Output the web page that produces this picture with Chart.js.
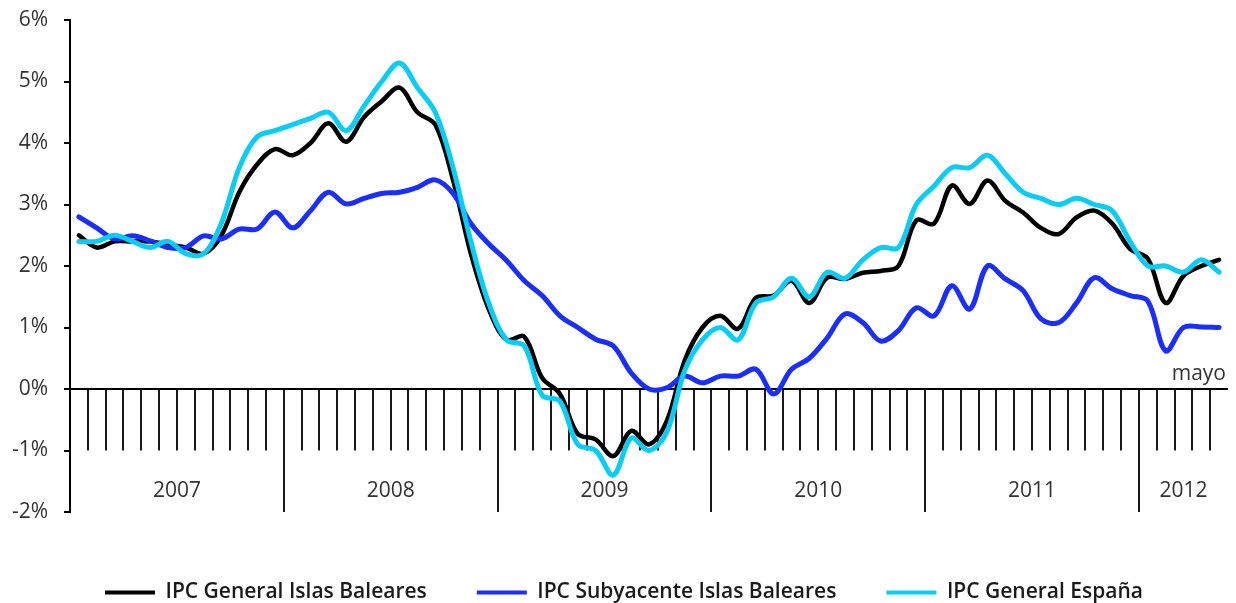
<!DOCTYPE html>
<html>
<head>
<meta charset="utf-8">
<script src="https://cdn.jsdelivr.net/npm/chart.js@4/dist/chart.umd.min.js"></script>
<style>
  html, body { margin: 0; padding: 0; background: #fff; }
  #wrap { width: 1236px; height: 603px; position: relative; }
</style>
</head>
<body>
<div id="wrap"><canvas id="c"></canvas></div>
<script>
// ---- data (monthly, Jan 2007 – May 2012) ----
const years = ['2007', '2008', '2009', '2010', '2011', '2012'];
const months = ['ene','feb','mar','abr','may','jun','jul','ago','sep','oct','nov','dic'];
const categories = [];
for (let y = 0; y < years.length; y++) {
  for (let m = 0; m < 12; m++) {
    if (y === 5 && m > 4) break;
    categories.push(months[m] + ' ' + years[y]);
  }
}
const yTickValues = [-2, -1, 0, 1, 2, 3, 4, 5, 6];
const lastLabel = 'mayo';

const ipcGeneralBaleares = [
  2.5, 2.3, 2.4, 2.4, 2.4, 2.35, 2.3, 2.2, 2.5, 3.2, 3.65, 3.9,
  3.8, 4.0, 4.32, 4.02, 4.42, 4.68, 4.9, 4.5, 4.3, 3.4, 2.2, 1.3,
  0.8, 0.85, 0.18, -0.08, -0.73, -0.82, -1.09, -0.68, -0.9, -0.52, 0.46, 1.0,
  1.19, 0.98, 1.48, 1.52, 1.76, 1.4, 1.81, 1.79, 1.89, 1.92, 2.0, 2.74,
  2.69, 3.31, 3.01, 3.39, 3.06, 2.87, 2.62, 2.52, 2.79, 2.9, 2.69, 2.28,
  2.12, 1.4, 1.84, 2.0, 2.1
];
const ipcSubyacenteBaleares = [
  2.8, 2.62, 2.44, 2.49, 2.41, 2.3, 2.3, 2.49, 2.44, 2.6, 2.6, 2.88,
  2.62, 2.9, 3.2, 3.01, 3.1, 3.18, 3.2, 3.28, 3.4, 3.18, 2.69, 2.36,
  2.09, 1.76, 1.52, 1.19, 1.0, 0.81, 0.7, 0.26, 0.0, 0.02, 0.21, 0.1,
  0.21, 0.21, 0.32, -0.08, 0.32, 0.5, 0.83, 1.22, 1.08, 0.78, 0.95, 1.32,
  1.19, 1.68, 1.3, 2.0, 1.79, 1.6, 1.14, 1.08, 1.4, 1.81, 1.63, 1.52,
  1.43, 0.62, 1.0, 1.01, 1.0
];
const ipcGeneralEspana = [
  2.4, 2.4, 2.5, 2.4, 2.3, 2.4, 2.2, 2.2, 2.7, 3.6, 4.1, 4.2,
  4.3, 4.4, 4.5, 4.2, 4.6, 5.0, 5.3, 4.9, 4.5, 3.6, 2.4, 1.4,
  0.8, 0.7, -0.1, -0.2, -0.9, -1.0, -1.4, -0.8, -1.0, -0.7, 0.3, 0.8,
  1.0, 0.8, 1.4, 1.5, 1.8, 1.5, 1.9, 1.8, 2.1, 2.3, 2.3, 3.0,
  3.3, 3.6, 3.6, 3.8, 3.5, 3.2, 3.1, 3.0, 3.1, 3.0, 2.9, 2.4,
  2.0, 2.0, 1.9, 2.1, 1.9
];

const FONT = '"Open Sans", "DejaVu Sans", sans-serif';
const FS = 21;

const axisDecor = {
  id: 'axisDecor',
  afterLayout(chart) {
    const lg = chart.legend;
    if (lg) { lg.top += 10; lg.bottom += 10; lg.left += 10; lg.right += 10; }
  },
  beforeDatasetsDraw(chart) {
    const ctx = chart.ctx;
    const xs = chart.scales.x, ys = chart.scales.y;
    const y0 = ys.getPixelForValue(0);
    const yM1 = ys.getPixelForValue(-1);
    const yM2 = ys.getPixelForValue(-2);
    const n = categories.length;
    const half = (xs.getPixelForValue(1) - xs.getPixelForValue(0)) / 2;
    ctx.save();
    ctx.strokeStyle = '#000';
    ctx.lineWidth = 2;
    ctx.beginPath();
    ctx.moveTo(chart.chartArea.left, y0);
    ctx.lineTo(chart.chartArea.right, y0);
    ctx.stroke();
    ctx.lineWidth = 1.8;
    for (let k = 1; k < n; k++) {
      const x = Math.round(xs.getPixelForValue(k) - half);
      ctx.beginPath();
      ctx.moveTo(x, y0);
      ctx.lineTo(x, k % 12 === 0 ? yM2 : yM1);
      ctx.stroke();
    }
    ctx.fillStyle = '#333';
    ctx.font = FS + 'px ' + FONT;
    ctx.textAlign = 'center';
    ctx.textBaseline = 'middle';
    const yLab = ys.getPixelForValue(-1.66);
    for (let yi = 0; yi < years.length; yi++) {
      const s = yi * 12, e = Math.min(s + 11, n - 1);
      const l = xs.getPixelForValue(s) - half, r = xs.getPixelForValue(e) + half;
      ctx.fillText(years[yi], (l + r) / 2, yLab);
    }
    ctx.textAlign = 'right';
    ctx.textBaseline = 'alphabetic';
    ctx.fillText(lastLabel, chart.chartArea.right - 2, y0 - 9);
    ctx.restore();
  }
};

new Chart(document.getElementById('c'), {
  type: 'line',
  data: {
    labels: categories,
    datasets: [
      { label: 'IPC General Islas Baleares', data: ipcGeneralBaleares,
        borderColor: '#000000', backgroundColor: '#000000', borderWidth: 4.5, order: 2 },
      { label: 'IPC Subyacente Islas Baleares', data: ipcSubyacenteBaleares,
        borderColor: '#1a2eff', backgroundColor: '#1a2eff', borderWidth: 5, order: 1 },
      { label: 'IPC General España', data: ipcGeneralEspana,
        borderColor: '#0acdf5', backgroundColor: '#0acdf5', borderWidth: 5, order: 0 }
    ]
  },
  options: {
    responsive: true,
    maintainAspectRatio: false,
    animation: false,
    elements: { point: { radius: 0 }, line: { tension: 0.35, borderCapStyle: 'round', borderJoinStyle: 'round' } },
    layout: { padding: { top: 20, right: 8, left: 0, bottom: 0 } },
    scales: {
      x: {
        type: 'category',
        offset: true,
        ticks: { display: false },
        grid: { display: false },
        border: { display: false },
        afterFit(scale) { scale.height = 10; }
      },
      y: {
        min: -2, max: 6,
        afterBuildTicks(scale) { scale.ticks = yTickValues.map(v => ({ value: v })); },
        afterFit(scale) { scale.width = 70; scale.paddingTop = 0; scale.paddingBottom = 0; },
        ticks: {
          callback: v => v + '%',
          font: { size: FS, family: FONT },
          color: '#333',
          padding: 16
        },
        grid: { drawOnChartArea: false, drawTicks: true, tickLength: 6, color: '#000', lineWidth: 2 },
        border: { display: true, color: '#000', width: 2 }
      }
    },
    plugins: {
      tooltip: { enabled: false },
      legend: {
        position: 'bottom',
        reverse: true,
        labels: {
          boxWidth: 50,
          boxHeight: 4,
          padding: 50,
          color: '#1a1a1a',
          font: { size: FS, weight: '600', family: FONT },
          generateLabels(chart) {
            const items = Chart.defaults.plugins.legend.labels.generateLabels(chart);
            return items.map(it => Object.assign(it, { lineWidth: 0, fillStyle: it.strokeStyle }));
          }
        }
      }
    }
  },
  plugins: [axisDecor]
});
</script>
</body>
</html>
